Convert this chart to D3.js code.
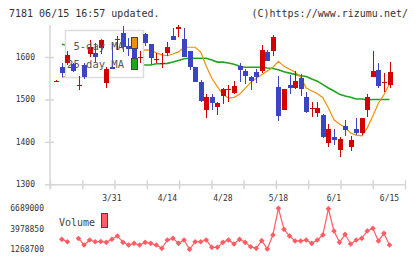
<!DOCTYPE html>
<html>
<head>
<meta charset="utf-8">
<script src="https://cdn.jsdelivr.net/npm/d3@7"></script>
<style>
  body { margin: 0; background: #fff; }
  svg { display: block; font-family: "DejaVu Sans Mono", monospace; }
</style>
</head>
<body>
<svg id="chart"></svg>
<script>
// trading days shown (2020)
const dates = ["3/16","3/17","3/18","3/19","3/23","3/24","3/25","3/26","3/27","3/30",
  "3/31","4/1","4/2","4/3","4/6","4/7","4/8","4/9","4/10","4/13",
  "4/14","4/15","4/16","4/17","4/20","4/21","4/22","4/23","4/24","4/27",
  "4/28","4/30","5/1","5/7","5/8","5/11","5/12","5/13","5/14","5/15",
  "5/18","5/19","5/20","5/21","5/22","5/25","5/26","5/27","5/28","5/29",
  "6/1","6/2","6/3","6/4","6/5","6/8","6/9","6/10","6/11","6/12","6/15"];

const openPrice = [1543,1577,1587,1584,1533,1581,1607,1610,1622,1538,
  1576,1641,1656,1626,1621,1599,1654,1631,1594,1584,
  1610,1650,1665,1643,1614,1577,1541,1474,1506,1481,
  1509,1523,1516,1578,1568,1553,1565,1566,1612,1615,
  1530,1474,1534,1526,1551,1506,1478,1469,1463,1398,
  1412,1381,1437,1389,1431,1422,1474,1554,1570,1540,1533];
const highPrice = [1545,1587,1614,1587,1555,1585,1639,1632,1642,1577,
  1631,1650,1672,1644,1625,1613,1656,1631,1609,1609,
  1636,1668,1676,1668,1614,1577,1546,1513,1513,1495,
  1526,1534,1544,1587,1572,1555,1572,1629,1617,1651,
  1555,1525,1558,1566,1560,1518,1495,1495,1466,1442,
  1430,1411,1452,1414,1456,1456,1513,1614,1587,1563,1589];
const lowPrice = [1542,1552,1581,1565,1522,1549,1600,1585,1607,1528,
  1571,1617,1612,1603,1585,1587,1625,1584,1585,1575,
  1603,1639,1648,1600,1570,1540,1494,1457,1474,1463,
  1490,1495,1513,1542,1537,1522,1538,1563,1590,1603,
  1449,1474,1513,1524,1508,1468,1459,1459,1409,1389,
  1393,1365,1415,1379,1416,1417,1459,1554,1528,1518,1528];
const closePrice = [1544,1563,1605,1568,1535,1552,1624,1601,1639,1572,
  1572,1643,1623,1618,1597,1600,1634,1597,1596,1586,
  1624,1640,1670,1600,1576,1540,1497,1506,1492,1492,
  1525,1525,1532,1570,1556,1544,1552,1617,1591,1647,
  1462,1525,1528,1544,1525,1471,1480,1480,1412,1430,
  1404,1407,1428,1404,1422,1456,1506,1567,1532,1542,1565];

// moving averages (hidden part behind the legend estimated)
const ma5 = [null,1552,1555,1560,1563,1565,1577,1576,1590,1598,
  1602,1605,1610,1606,1611,1616,1617,1616,1610,1605,
  1603,1607,1612,1623,1623,1623,1612,1579,1550,1530,
  1512,1503,1505,1512,1526,1540,1550,1558,1567,1576,
  1590,1578,1571,1564,1553,1527,1520,1514,1504,1480,
  1452,1442,1434,1421,1416,1414,1433,1461,1491,1511,1537];
const ma25 = [null,1630,1627,1623,1619,1615,1611,1607,1604,1600,
  1597,1594,1591,1588,1585,1583,1581,1581,1584,1584,
  1585,1588,1592,1596,1597,1597,1597,1597,1593,1588,
  1588,1586,1583,1578,1576,1576,1576,1576,1574,1573,
  1570,1565,1562,1559,1556,1554,1548,1543,1535,1527,
  1520,1512,1508,1505,1501,1501,1499,1500,1500,1500,1500];

const volume = [null,2590000,2270000,null,2700000,1840000,2500000,2270000,2300000,2190000,
  2600000,3030000,2190000,1840000,2060000,1840000,2190000,2060000,1840000,1400000,
  2500000,2720000,2060000,2500000,1268700,2270000,2270000,2500000,1530000,1530000,
  2190000,2500000,1970000,2590000,2190000,1610000,1400000,2410000,1310000,3160000,
  6689000,3910000,3030000,2370000,2370000,2500000,2060000,2500000,3160000,6620000,
  3690000,2190000,3250000,1970000,2500000,2720000,3690000,4050000,2370000,3380000,1840000];

const priceTicks = [1300, 1400, 1500, 1600];
const volumeTicks = [6689000, 3978850, 1268700];
const dateLabels = ["3/31", "4/14", "4/28", "5/18", "6/1", "6/15"];
const legendNames = ["5-day MA", "25-day MA"];

class CandleChart {

  constructor(_config) {
    this.config = {
      parentElement: _config.parentElement,
      containerWidth: _config.containerWidth || 420,
      containerHeight: _config.containerHeight || 259
    }
    this.initVis();
  }

  initVis() {
    let vis = this;

    vis.svg = d3.select(vis.config.parentElement)
        .attr('width', vis.config.containerWidth)
        .attr('height', vis.config.containerHeight);

    // index based x, the weekly tick marks sit on their own even grid
    vis.xScale = d3.scaleLinear()
      .domain([0, dates.length - 1])
      .range([56.3, 389.5]);

    vis.gridScale = d3.scaleLinear()
      .domain([0, 11])
      .range([50, 405]);

    vis.yScale = d3.scaleLinear()
      .domain([1300, 1600])
      .range([184.3, 57]);

    vis.volScale = d3.scaleLinear()
      .domain([d3.min(volumeTicks), d3.max(volumeTicks)])
      .range([249.3, 208.3]);

    this.render();
  }

  render() {
    let vis = this;
    const red = '#d40000', blue = '#3b45c4';
    const axisColor = '#d6d6d6';

    // header texts
    vis.svg.append('text')
        .attr('x', 9).attr('y', 16.5)
        .attr('font-size', 10).attr('fill', '#333')
        .text('7181 06/15 16:57 updated.');
    vis.svg.append('text')
        .attr('x', 408).attr('y', 16.5)
        .attr('text-anchor', 'end')
        .attr('font-size', 10).attr('fill', '#333')
        .text('(C)https://www.rizumu.net/');

    // y axis
    vis.svg.append('line')
        .attr('x1', 50).attr('x2', 50).attr('y1', 25).attr('y2', 189)
        .attr('stroke', axisColor).attr('stroke-width', 1.5);

    let yAxisG = vis.svg.append('g')
        .attr('transform', 'translate(50,0)')
        .call(d3.axisLeft(vis.yScale).tickValues(priceTicks).tickFormat(d3.format('d'))
          .tickSize(5).tickPadding(10));
    yAxisG.select('.domain').remove();
    yAxisG.selectAll('.tick line')
        .attr('x1', 4).attr('x2', -5)
        .attr('stroke', axisColor).attr('stroke-width', 1.5);
    yAxisG.selectAll('.tick text')
        .attr('font-size', 8).attr('font-family', '"DejaVu Sans Mono", monospace')
        .attr('fill', '#333');

    // x axis line + weekly ticks
    let xAxisG = vis.svg.append('g')
        .attr('transform', `translate(0,${vis.yScale(1300)})`)
        .call(d3.axisBottom(vis.gridScale).tickValues(d3.range(12)).tickFormat('').tickSizeOuter(0));
    xAxisG.select('.domain').attr('stroke', axisColor).attr('stroke-width', 1.5);
    xAxisG.selectAll('.tick line')
        .attr('y1', -4).attr('y2', 5)
        .attr('stroke', axisColor).attr('stroke-width', 1.5);

    // date labels
    vis.svg.selectAll('.date-label')
      .data(dateLabels)
      .join('text')
        .attr('class', 'date-label')
        .attr('x', d => vis.xScale(dates.indexOf(d)))
        .attr('y', 201)
        .attr('text-anchor', 'middle')
        .attr('font-size', 8).attr('fill', '#333')
        .text(d => d);

    // moving averages
    let line = data => d3.line()
        .defined(d => d != null)
        .x((d, i) => vis.xScale(i))
        .y(d => vis.yScale(d))(data);

    vis.svg.append('path')
        .attr('d', line(ma25))
        .attr('fill', 'none').attr('stroke', '#1ea51e').attr('stroke-width', 1.6);
    vis.svg.append('path')
        .attr('d', line(ma5))
        .attr('fill', 'none').attr('stroke', '#f0900a').attr('stroke-width', 1.2);

    // legend box hides the lines but not the candles
    vis.svg.append('rect')
        .attr('x', 65.5).attr('y', 30.5).attr('width', 78).attr('height', 47)
        .attr('fill', '#fff').attr('stroke', '#dcdcdc').attr('stroke-width', 1.5);

    // candles
    let idx = d3.range(dates.length);
    let candle = vis.svg.append('g').selectAll('g')
      .data(idx)
      .join('g')
        .attr('shape-rendering', 'crispEdges');

    candle.append('line')
        .attr('x1', i => Math.round(vis.xScale(i)) + 0.5)
        .attr('x2', i => Math.round(vis.xScale(i)) + 0.5)
        .attr('y1', i => vis.yScale(highPrice[i]))
        .attr('y2', i => vis.yScale(lowPrice[i]))
        .attr('stroke', i => closePrice[i] >= openPrice[i] ? red : blue);

    candle.append('rect')
        .attr('x', i => Math.round(vis.xScale(i)) - 2)
        .attr('width', 5)
        .attr('y', i => vis.yScale(Math.max(openPrice[i], closePrice[i])))
        .attr('height', i => Math.max(1, vis.yScale(Math.min(openPrice[i], closePrice[i])) - vis.yScale(Math.max(openPrice[i], closePrice[i]))))
        .attr('fill', i => closePrice[i] >= openPrice[i] ? red : blue);

    // legend texts and swatches
    vis.svg.selectAll('.legend-text')
      .data(legendNames)
      .join('text')
        .attr('class', 'legend-text')
        .attr('x', 124)
        .attr('y', (d, i) => 50 + i * 18)
        .attr('text-anchor', 'end')
        .attr('font-size', 10.5).attr('fill', '#555')
        .text(d => d);

    vis.svg.append('rect')
        .attr('x', 131.5).attr('y', 37.5).attr('width', 6).attr('height', 11)
        .attr('fill', '#f0900a').attr('stroke', '#444');
    vis.svg.append('rect')
        .attr('x', 131.5).attr('y', 58.5).attr('width', 6).attr('height', 11)
        .attr('fill', '#1ea51e').attr('stroke', '#444');

    // volume panel
    vis.svg.selectAll('.vol-label')
      .data(volumeTicks)
      .join('text')
        .attr('class', 'vol-label')
        .attr('x', 44)
        .attr('y', d => vis.volScale(d) + 3)
        .attr('text-anchor', 'end')
        .attr('font-size', 8).attr('fill', '#333')
        .text(d => d);

    vis.svg.append('text')
        .attr('x', 59).attr('y', 226)
        .attr('font-size', 10).attr('fill', '#444')
        .text('Volume');
    vis.svg.append('rect')
        .attr('x', 101.5).attr('y', 213.5).attr('width', 6).attr('height', 14)
        .attr('fill', '#ff5c64').attr('stroke', '#444');

    let volLine = d3.line()
        .defined(d => d != null)
        .x((d, i) => vis.xScale(i))
        .y(d => vis.volScale(d));

    vis.svg.append('path')
        .attr('d', volLine(volume))
        .attr('fill', 'none').attr('stroke', '#ff5c64').attr('stroke-width', 1.2);

    vis.svg.append('g').selectAll('path')
      .data(idx.filter(i => volume[i] != null))
      .join('path')
        .attr('d', d3.symbol().type(d3.symbolSquare).size(16))
        .attr('transform', i => `translate(${vis.xScale(i)},${vis.volScale(volume[i])}) rotate(45)`)
        .attr('fill', '#ff5c64');
  }
}

let chart = new CandleChart({ parentElement: '#chart' });
</script>
</body>
</html>
